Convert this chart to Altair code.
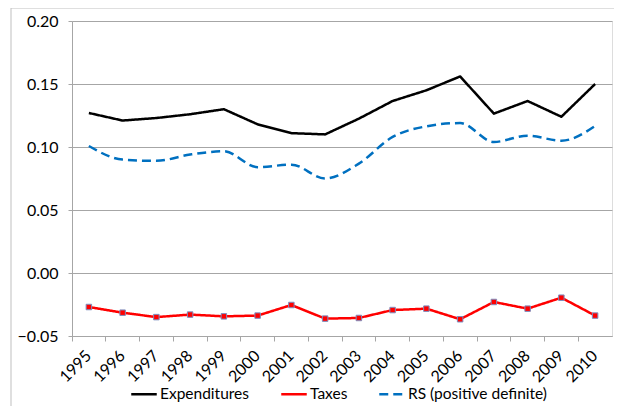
import altair as alt
import pandas as pd

years = [str(y) for y in range(1995, 2011)]
expenditures = [0.127, 0.121, 0.123, 0.126, 0.130, 0.118, 0.111, 0.110,
                0.1225, 0.1365, 0.145, 0.156, 0.1265, 0.1365, 0.124, 0.150]
taxes = [-0.027, -0.0315, -0.035, -0.033, -0.0344, -0.0338, -0.0254, -0.0362,
         -0.0357, -0.0294, -0.0283, -0.0367, -0.023, -0.0283, -0.0196, -0.0338]
rs = [0.1008, 0.090, 0.089, 0.094, 0.0966, 0.084, 0.086, 0.075,
      0.0868, 0.108, 0.1164, 0.119, 0.104, 0.109, 0.105, 0.1167]
series_names = ["Expenditures", "Taxes", "RS (positive definite)"]

rows = []
for name, vals in zip(series_names, [expenditures, taxes, rs]):
    for y, v in zip(years, vals):
        rows.append({"year": y, "value": v, "series": name})
df = pd.DataFrame(rows)

W, H = 540, 315
FONT = "Lato"

xenc = alt.X("year:O", scale=alt.Scale(type="band", paddingInner=0, paddingOuter=0, domain=years),
             axis=alt.Axis(title=None, bandPosition=0, labelAngle=-45,
                           labelAlign="right", labelBaseline="middle", labelPadding=12,
                           tickSize=5, tickColor="#a6a6a6", domainColor="#a6a6a6",
                           labelFont=FONT, labelFontSize=16, labelColor="#000000", grid=False))
yenc = alt.Y("value:Q", scale=alt.Scale(domain=[-0.05, 0.20], nice=False, zero=False),
             axis=alt.Axis(title=None, values=[-0.05, 0, 0.05, 0.10, 0.15, 0.20], format=".2f",
                           tickSize=4, tickColor="#a6a6a6", domainColor="#a6a6a6",
                           gridColor="#a6a6a6", gridWidth=1, labelPadding=10,
                           labelFont=FONT, labelFontSize=16, labelColor="#000000"))

leg = dict(title=None, orient="none", legendX=58, legendY=359, direction="horizontal",
           symbolType="stroke", symbolSize=650, symbolStrokeWidth=2.5, padding=0,
           labelFont=FONT, labelFontSize=15.5, labelColor="#000000",
           columnPadding=26, labelOffset=2)
color = alt.Color("series:N", scale=alt.Scale(domain=series_names, range=["#000000", "#ff0000", "#0070c0"]),
                  legend=alt.Legend(**leg))
dash = alt.StrokeDash("series:N", scale=alt.Scale(domain=series_names, range=[[1, 0], [1, 0], [9, 5]]),
                      legend=alt.Legend(**leg))

base = alt.Chart(df)

border = alt.Chart(pd.DataFrame({"a": [0]})).mark_rect(fill="transparent", stroke="#bfbfbf", strokeWidth=1).encode(
    x=alt.value(-61), x2=alt.value(W + 40), y=alt.value(-13), y2=alt.value(H + 150))

lin = base.transform_filter(alt.datum.series != "RS (positive definite)").mark_line(
    strokeWidth=2.5, interpolate="linear", strokeJoin="round").encode(
    x=xenc, y=yenc, color=color, strokeDash=dash)
smooth = base.transform_filter(alt.datum.series == "RS (positive definite)").mark_line(
    strokeWidth=2.5, interpolate="monotone").encode(
    x=xenc, y=yenc, color=color, strokeDash=dash)
pts = base.transform_filter(alt.datum.series == "Taxes").mark_point(
    shape="square", filled=True, size=30, fill="#ff0000", stroke="#7b8fc0", strokeWidth=1, opacity=1).encode(
    x=xenc, y=yenc)

chart = alt.layer(border, lin, smooth, pts).properties(
    width=W, height=H, padding={"left": 64, "top": 13, "right": 2, "bottom": 70},
    autosize=alt.AutoSizeParams(type="none")
).configure_view(stroke=None).configure(background="white")

chart.save("out.html", embed_options={"renderer": "svg", "actions": False})
